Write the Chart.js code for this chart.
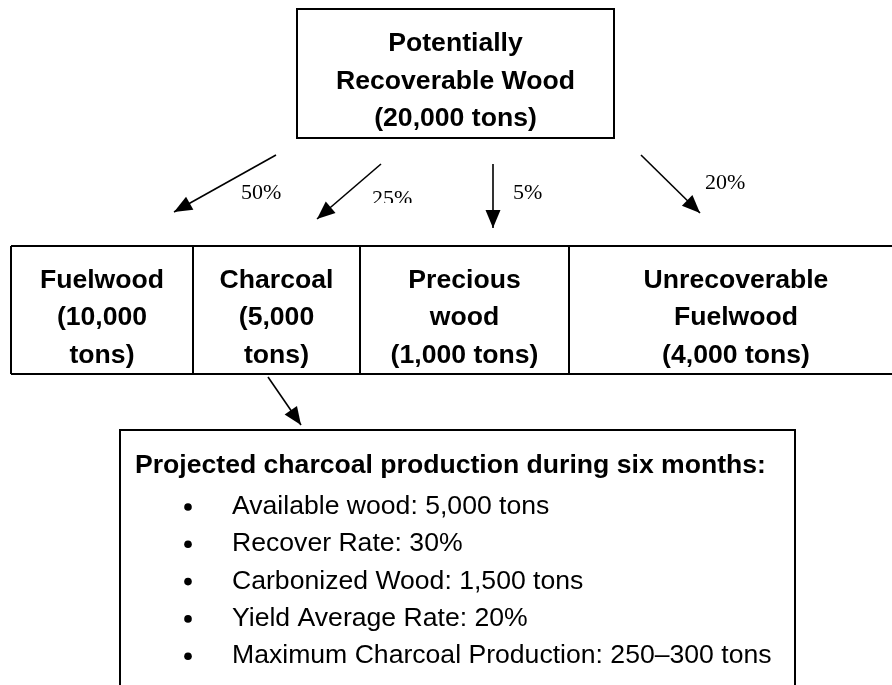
<!DOCTYPE html>
<html>
<head>
<meta charset="utf-8">
<title>Potentially Recoverable Wood</title>
<script src="https://cdn.jsdelivr.net/npm/chart.js@4.4.1/dist/chart.umd.min.js"></script>
<style>
  html, body { margin: 0; padding: 0; background: #fff; }
  #flow { display: block; }
</style>
</head>
<body>
<canvas id="flow" width="892" height="685"></canvas>
<script>
// data
var totalTons = 20000;
var categories = ['Fuelwood', 'Charcoal', 'Precious wood', 'Unrecoverable Fuelwood'];
var tons = [10000, 5000, 1000, 4000];
var shares = [50, 25, 5, 20];
var detailTitle = 'Projected charcoal production during six months:';
var detailLabels = ['Available wood', 'Recover Rate', 'Carbonized Wood', 'Yield Average Rate', 'Maximum Charcoal Production'];
var detailValues = [5000, 30, 1500, 20, [250, 300]];
var detailUnits = [' tons', '%', ' tons', '%', ' tons'];

// layout, in canvas units (the hidden x / y scales run 0..892 and 0..685)
var layout = {
  top: { x0: 297, x1: 614, y0: 9, y1: 138 },
  row: { y0: 246, y1: 374, edges: [11, 193, 360, 569, 903] },
  detail: { x0: 120, x1: 795, y0: 430, y1: 700 },
  // one arrow per category, then the one from Charcoal to the detail box
  arrows: [[276, 155, 174, 212], [381, 164, 317, 219], [493, 164, 493, 228], [641, 155, 700, 213], [268, 377, 301, 425]],
  shareLabels: [[241, 199], [372, 205], [513, 199], [705, 189]],
  shareClip: [null, 203, null, null]
};

var boldFont = 'bold 26.6px "Liberation Sans", Arial, sans-serif';
var plainFont = '26.6px "Liberation Sans", Arial, sans-serif';
var serifFont = '22px "Liberation Serif", "Times New Roman", serif';
var lineH = 37.5;
var pad = 14;

function fmt(n) {
  return n.toLocaleString('en-US');
}

function wrap(ctx, text, maxW) {
  var words = text.split(' ');
  var lines = [];
  var cur = '';
  words.forEach(function (w) {
    var t = cur ? cur + ' ' + w : w;
    if (cur && ctx.measureText(t).width > maxW) {
      lines.push(cur);
      cur = w;
    } else {
      cur = t;
    }
  });
  if (cur) lines.push(cur);
  return lines;
}

var arrowSets = layout.arrows.map(function (a) {
  return {
    data: [{ x: a[0], y: a[1] }, { x: a[2], y: a[3] }],
    showLine: true,
    borderColor: '#000',
    borderWidth: 1.6,
    pointRadius: 0,
    fill: false
  };
});

var diagram = {
  id: 'diagram',
  afterDatasetsDraw: function (chart) {
    var ctx = chart.ctx;
    var sx = chart.scales.x, sy = chart.scales.y;
    var px = function (v) { return sx.getPixelForValue(v); };
    var py = function (v) { return sy.getPixelForValue(v); };

    ctx.save();
    ctx.strokeStyle = '#000';
    ctx.fillStyle = '#000';
    ctx.lineWidth = 2;

    // arrow heads
    layout.arrows.forEach(function (a) {
      var x0 = px(a[0]), y0 = py(a[1]), x1 = px(a[2]), y1 = py(a[3]);
      var ang = Math.atan2(y1 - y0, x1 - x0);
      var len = 18, half = 7.5;
      var bx = x1 - len * Math.cos(ang), by = y1 - len * Math.sin(ang);
      ctx.beginPath();
      ctx.moveTo(x1, y1);
      ctx.lineTo(bx - half * Math.sin(ang), by + half * Math.cos(ang));
      ctx.lineTo(bx + half * Math.sin(ang), by - half * Math.cos(ang));
      ctx.closePath();
      ctx.fill();
    });

    // share labels
    ctx.font = serifFont;
    ctx.textAlign = 'left';
    ctx.textBaseline = 'alphabetic';
    shares.forEach(function (s, i) {
      var p = layout.shareLabels[i];
      ctx.save();
      if (layout.shareClip[i] !== null) {
        ctx.beginPath();
        ctx.rect(0, 0, chart.width, py(layout.shareClip[i]));
        ctx.clip();
      }
      ctx.fillText(s + '%', px(p[0]), py(p[1]));
      ctx.restore();
    });

    // top box
    var t = layout.top;
    ctx.strokeRect(px(t.x0), py(t.y0), px(t.x1) - px(t.x0), py(t.y1) - py(t.y0));
    ctx.font = boldFont;
    ctx.textAlign = 'center';
    var topW = px(t.x1) - px(t.x0) - 2 * pad;
    var topLines = wrap(ctx, 'Potentially Recoverable Wood', topW).concat(wrap(ctx, '(' + fmt(totalTons) + ' tons)', topW));
    topLines.forEach(function (l, k) {
      ctx.fillText(l, (px(t.x0) + px(t.x1)) / 2, py(t.y0) + 42 + k * lineH);
    });

    // row of category boxes
    var r = layout.row, e = r.edges;
    ctx.beginPath();
    ctx.moveTo(px(e[0]), py(r.y0));
    ctx.lineTo(px(e[e.length - 1]), py(r.y0));
    ctx.moveTo(px(e[0]), py(r.y1));
    ctx.lineTo(px(e[e.length - 1]), py(r.y1));
    for (var j = 0; j < e.length - 1; j++) {
      ctx.moveTo(px(e[j]), py(r.y0));
      ctx.lineTo(px(e[j]), py(r.y1));
    }
    ctx.stroke();
    categories.forEach(function (c, i) {
      var w = px(e[i + 1]) - px(e[i]) - 2 * pad;
      var lines = wrap(ctx, c, w).concat(wrap(ctx, '(' + fmt(tons[i]) + ' tons)', w));
      var cx = (px(e[i]) + px(e[i + 1])) / 2;
      lines.forEach(function (l, k) {
        ctx.fillText(l, cx, py(r.y0) + 41.5 + k * lineH);
      });
    });

    // detail box, bottom edge runs off the page
    var d = layout.detail;
    ctx.beginPath();
    ctx.moveTo(px(d.x0), py(d.y1));
    ctx.lineTo(px(d.x0), py(d.y0));
    ctx.lineTo(px(d.x1), py(d.y0));
    ctx.lineTo(px(d.x1), py(d.y1));
    ctx.stroke();
    ctx.textAlign = 'left';
    ctx.font = boldFont;
    ctx.fillText(detailTitle, px(d.x0) + 15, py(d.y0) + 43);
    ctx.font = plainFont;
    detailLabels.forEach(function (lab, i) {
      var v = detailValues[i];
      var txt = Array.isArray(v) ? fmt(v[0]) + '\u2013' + fmt(v[1]) : fmt(v);
      var base = py(d.y0) + 84 + i * 37.3;
      ctx.beginPath();
      ctx.arc(px(d.x0) + 68, base - 7, 3.8, 0, Math.PI * 2);
      ctx.fill();
      ctx.fillText(lab + ': ' + txt + detailUnits[i], px(d.x0) + 112, base);
    });

    ctx.restore();
  }
};

new Chart(document.getElementById('flow'), {
  type: 'scatter',
  data: { datasets: arrowSets },
  options: {
    responsive: false,
    devicePixelRatio: 1,
    animation: false,
    layout: { padding: 0 },
    scales: {
      x: { type: 'linear', min: 0, max: 892, display: false },
      y: { type: 'linear', min: 0, max: 685, reverse: true, display: false }
    },
    plugins: {
      legend: { display: false },
      tooltip: { enabled: false }
    },
    events: []
  },
  plugins: [diagram]
});
</script>
</body>
</html>
